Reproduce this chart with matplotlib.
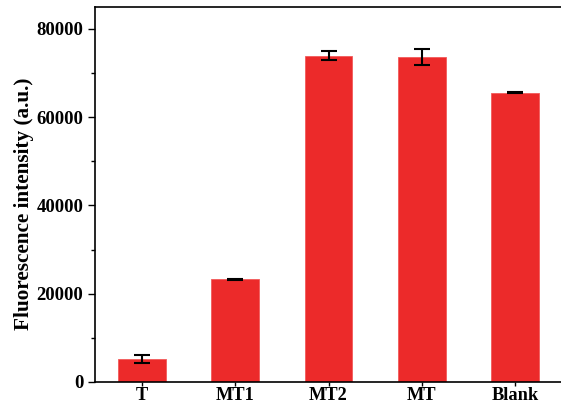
import numpy as np
import matplotlib
matplotlib.use("Agg")
import matplotlib.pyplot as plt
from matplotlib.ticker import MultipleLocator

samples = ["T", "MT1", "MT2", "MT", "Blank"]
intensity = [5200, 23300, 73900, 73600, 65500]
errors = [1000, 100, 1050, 1750, 100]

plt.rcParams['font.family'] = ['Liberation Serif', 'DejaVu Serif']
plt.rcParams['font.weight'] = 'bold'

fig = plt.figure(figsize=(5.61, 4.04), dpi=100)
ax = fig.add_axes([95/561, 22/404, 467/561, 374.7/404])

x = np.arange(len(samples))
ax.bar(x, intensity, width=0.51, color='#EC2A2A', edgecolor='#F25A5A', linewidth=0.6,
       yerr=errors, capsize=6, error_kw=dict(ecolor='black', elinewidth=1.5, capthick=1.5))

ax.set_xlim(-0.5, 4.5)
ax.set_ylim(0, 84900)
ax.set_xticks(x)
ax.set_xticklabels(samples, fontsize=13.2, fontweight='bold')
ax.yaxis.set_major_locator(MultipleLocator(20000))
ax.yaxis.set_minor_locator(MultipleLocator(10000))
ax.tick_params(axis='y', which='major', length=5, width=1, labelsize=13.5, direction='out')
ax.tick_params(axis='y', which='minor', length=3, width=1, direction='out')
ax.tick_params(axis='x', length=3, width=1, labelsize=13.2, direction='out', pad=0.5)
for lab in ax.get_yticklabels():
    lab.set_fontweight('bold')
for s in ax.spines.values():
    s.set_linewidth(1.2)
ax.spines['right'].set_visible(False)

ax.set_ylabel("Fluorescence intensity (a.u.)", fontsize=15.3, fontweight='bold')
ax.yaxis.set_label_coords(-0.131, 0.475)

fig.savefig("out.png", dpi=100)
